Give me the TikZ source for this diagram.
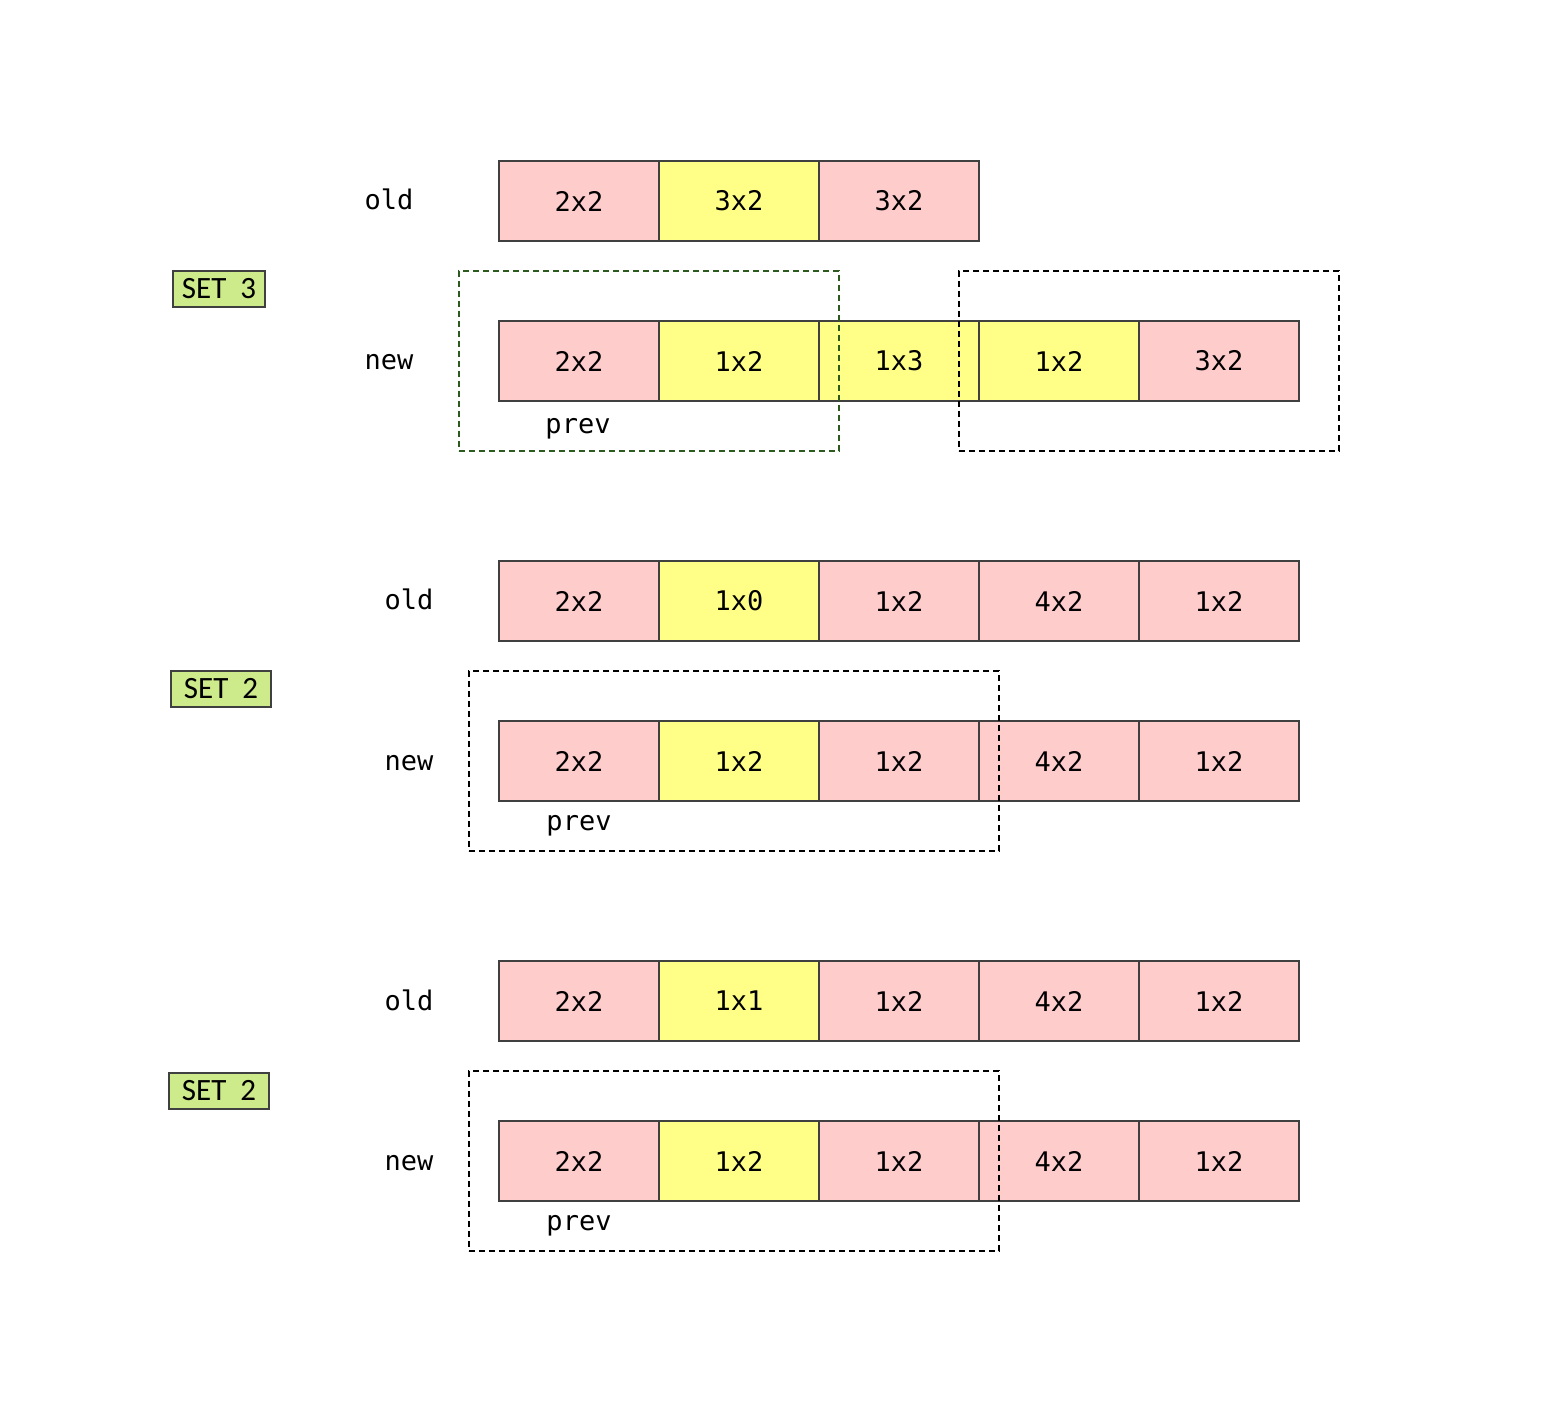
\documentclass[tikz,border=0pt]{standalone}
\usepackage{fontspec}
\newfontfamily\monof{DejaVu Sans Mono}
\newfontfamily\setf{Carlito}
\definecolor{cpink}{HTML}{FFCCCC}
\definecolor{cyel}{HTML}{FFFF88}
\definecolor{cgreen}{HTML}{CDEB8B}
\definecolor{cline}{HTML}{404040}
\definecolor{cdgreen}{HTML}{2D5A1E}
\begin{document}
\begin{tikzpicture}[x=0.5pt,y=-0.5pt,
  cell/.style={draw=cline,line width=1pt,minimum width=80pt,minimum height=40pt,inner sep=0pt,outer sep=0pt,font=\monof\fontsize{13.5}{15}\selectfont},
  pk/.style={cell,fill=cpink},
  yl/.style={cell,fill=cyel},
  lbl/.style={font=\monof\fontsize{13.5}{15}\selectfont,inner sep=0pt,anchor=base},
  setbox/.style={draw=cline,line width=1pt,fill=cgreen,inner sep=0pt,minimum height=18pt,font=\setf\fontsize{15.5}{17}\selectfont},
  dbox/.style={draw=black,line width=1pt,dash pattern=on 3pt off 2pt,inner sep=0pt,outer sep=0pt},
  gbox/.style={dbox,draw=cdgreen}]
\useasboundingbox (0,0) rectangle (1568,1406);

% ---------- SET 3 ----------
\node[lbl] (o3) at (389,210) {old};
\node[pk] (o3a) at (579,201) {2x2};
\node[yl] (o3b) at (739,201) {3x2};
\node[pk] (o3c) at (899,201) {3x2};

\node[setbox,minimum width=46pt] (s3) at (219,289) {SET\ \ 3};

\node[lbl] (n3) at (389,370) {new};
\node[pk] (n3a) at (579,361) {2x2};
\node[yl] (n3b) at (739,361) {1x2};
\node[yl] (n3c) at (899,361) {1x3};
\node[yl] (n3d) at (1059,361) {1x2};
\node[pk] (n3e) at (1219,361) {3x2};
\node[lbl] (p3) at (578,434) {prev};
\node[gbox,minimum width=190pt,minimum height=90pt] (g3) at (649,361) {};
\node[dbox,minimum width=190pt,minimum height=90pt] (d3) at (1149,361) {};

% ---------- SET 2 (a) ----------
\node[lbl] (o2) at (409,610) {old};
\node[pk] (o2a) at (579,601) {2x2};
\node[yl] (o2b) at (739,601) {1x0};
\node[pk] (o2c) at (899,601) {1x2};
\node[pk] (o2d) at (1059,601) {4x2};
\node[pk] (o2e) at (1219,601) {1x2};

\node[setbox,minimum width=50pt] (s2) at (221,689) {SET\ \ 2};

\node[lbl] (n2) at (409,770) {new};
\node[pk] (n2a) at (579,761) {2x2};
\node[yl] (n2b) at (739,761) {1x2};
\node[pk] (n2c) at (899,761) {1x2};
\node[pk] (n2d) at (1059,761) {4x2};
\node[pk] (n2e) at (1219,761) {1x2};
\node[lbl] (p2) at (579,830) {prev};
\node[dbox,minimum width=265pt,minimum height=90pt] (d2) at (734,761) {};

% ---------- SET 2 (b) ----------
\node[lbl] (o1) at (409,1010) {old};
\node[pk] (o1a) at (579,1001) {2x2};
\node[yl] (o1b) at (739,1001) {1x1};
\node[pk] (o1c) at (899,1001) {1x2};
\node[pk] (o1d) at (1059,1001) {4x2};
\node[pk] (o1e) at (1219,1001) {1x2};

\node[setbox,minimum width=50pt] (s1) at (219,1091) {SET\ \ 2};

\node[lbl] (n1) at (409,1170) {new};
\node[pk] (n1a) at (579,1161) {2x2};
\node[yl] (n1b) at (739,1161) {1x2};
\node[pk] (n1c) at (899,1161) {1x2};
\node[pk] (n1d) at (1059,1161) {4x2};
\node[pk] (n1e) at (1219,1161) {1x2};
\node[lbl] (p1) at (579,1230) {prev};
\node[dbox,minimum width=265pt,minimum height=90pt] (d1) at (734,1161) {};
\end{tikzpicture}
\end{document}
